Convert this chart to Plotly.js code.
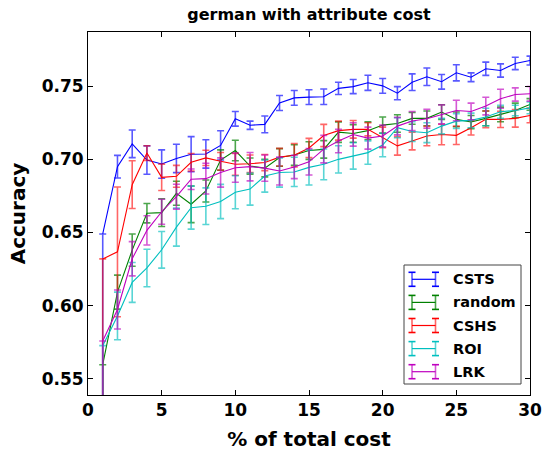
<!DOCTYPE html>
<html>
<head>
<meta charset="utf-8">
<script src="https://cdn.plot.ly/plotly-3.0.1.min.js"></script>
<style>html,body{margin:0;padding:0;background:#fff;}#chart{width:544px;height:452px;}</style>
</head>
<body>
<div id="chart"></div>
<script>
// ---- data ----
const costPct = [1,2,3,4,5,6,7,8,9,10,11,12,13,14,15,16,17,18,19,20,21,22,23,24,25,26,27,28,29,30];
const seriesNames = ["CSTS", "random", "CSHS", "ROI", "LRK"];

const cstsMean = [0.649,0.695,0.7106,0.6995,0.6968,0.7006,0.7035,0.7037,0.7095,0.7277,0.7233,0.7239,0.7385,0.742,0.7425,0.7428,0.7485,0.7497,0.7523,0.7502,0.7452,0.7527,0.7564,0.753,0.7591,0.7561,0.7619,0.7607,0.7655,0.7675];
const cstsErrUp = [0,0.0077,0.0094,0.0097,0.0097,0.0097,0.012,0.0097,0.01,0.005,0.0028,0.0057,0.0051,0.005,0.005,0.0053,0.0042,0.0048,0.0052,0.005,0.0045,0.0057,0.006,0.005,0.0055,0.003,0.0045,0.0045,0.0042,0.003];
const cstsErrDown = [0.15,0.0077,0.0094,0.0097,0.0097,0.0097,0.012,0.0097,0.01,0.005,0.0028,0.0057,0.0051,0.005,0.005,0.0053,0.0042,0.0048,0.0052,0.005,0.0045,0.0057,0.006,0.005,0.0055,0.003,0.0045,0.0045,0.0042,0.003];

const randomMean = [0.5597,0.6093,0.638,0.6632,0.6636,0.6768,0.6693,0.6784,0.6995,0.706,0.6954,0.694,0.7013,0.703,0.706,0.7068,0.7186,0.7177,0.7196,0.7234,0.7245,0.728,0.728,0.7323,0.7273,0.7255,0.728,0.7307,0.7334,0.7375];
const randomErrUp = [0,0.0116,0.011,0.0066,0.0095,0.0082,0.0125,0.0075,0.007,0.007,0.0055,0.006,0.006,0.007,0.006,0.006,0.007,0.006,0.006,0.0055,0.006,0.004,0.005,0.005,0.005,0.0045,0.005,0.005,0.005,0.004];
const randomErrDown = [0.15,0.0116,0.011,0.0066,0.0095,0.0082,0.0125,0.0075,0.007,0.007,0.0055,0.006,0.006,0.007,0.006,0.006,0.007,0.006,0.006,0.0055,0.006,0.004,0.005,0.005,0.005,0.0045,0.005,0.005,0.005,0.004];

const cshsMean = [0.632,0.6368,0.6827,0.7043,0.6877,0.6884,0.698,0.701,0.6987,0.6966,0.697,0.6978,0.7015,0.7028,0.7078,0.7163,0.7196,0.7205,0.7205,0.715,0.7092,0.7125,0.7159,0.717,0.7164,0.7216,0.7273,0.7273,0.728,0.73];
const cshsErrUp = [0,0.0443,0.0163,0.005,0.009,0.0075,0.006,0.0052,0.006,0.0075,0.006,0.0055,0.006,0.008,0.0065,0.0076,0.0065,0.006,0.0045,0.007,0.0063,0.006,0.0066,0.007,0.0063,0.005,0.0057,0.0055,0.006,0.005];
const cshsErrDown = [0.15,0.0443,0.0163,0.005,0.009,0.0075,0.006,0.0052,0.006,0.0075,0.006,0.0055,0.006,0.008,0.0065,0.0076,0.0065,0.006,0.0045,0.007,0.0063,0.006,0.0066,0.007,0.0063,0.005,0.0057,0.0055,0.006,0.005];

const roiMean = [0.5727,0.593,0.6159,0.6258,0.6382,0.6537,0.667,0.668,0.6712,0.6775,0.6797,0.6886,0.691,0.6914,0.6945,0.6966,0.70,0.7023,0.7046,0.7098,0.7216,0.719,0.7182,0.7227,0.7261,0.7266,0.7289,0.7325,0.7334,0.7352];
const roiErrUp = [0,0.0163,0.0136,0.0128,0.0125,0.013,0.0147,0.0125,0.0117,0.0113,0.011,0.011,0.01,0.01,0.012,0.0105,0.0093,0.009,0.008,0.008,0.0068,0.0068,0.0068,0.0053,0.005,0.005,0.006,0.0045,0.0036,0.004];
const roiErrDown = [0.15,0.0163,0.0136,0.0128,0.0125,0.013,0.0147,0.0125,0.0117,0.0113,0.011,0.011,0.01,0.01,0.012,0.0105,0.0093,0.009,0.008,0.008,0.0068,0.0068,0.0068,0.0053,0.005,0.005,0.006,0.0045,0.0036,0.004];

const lrkMean = [0.5759,0.5974,0.6321,0.6515,0.6642,0.6745,0.6864,0.6868,0.691,0.6943,0.695,0.694,0.692,0.6948,0.6983,0.707,0.7125,0.717,0.7145,0.7159,0.7227,0.7262,0.7277,0.7307,0.7334,0.7327,0.7364,0.7414,0.7443,0.7448];
const lrkErrUp = [0,0.0133,0.0117,0.01,0.0085,0.0085,0.007,0.0105,0.01,0.01,0.0097,0.009,0.0095,0.008,0.009,0.0094,0.008,0.008,0.0075,0.0075,0.006,0.0065,0.0065,0.0065,0.007,0.0057,0.006,0.0065,0.0045,0.005];
const lrkErrDown = [0.15,0.0133,0.0117,0.01,0.0085,0.0085,0.007,0.0105,0.01,0.01,0.0097,0.009,0.0095,0.008,0.009,0.0094,0.008,0.008,0.0075,0.0075,0.006,0.0065,0.0065,0.0065,0.007,0.0057,0.006,0.0065,0.0045,0.005];

const xTicks = [0,5,10,15,20,25,30];
const yTicks = [0.55,0.60,0.65,0.70,0.75];

// ---- styling ----
const lineColors = ["#0000ff", "#008000", "#ff0000", "#00bfbf", "#bf00bf"];
const barColors  = ["rgba(0,0,255,0.65)", "rgba(0,128,0,0.7)", "rgba(255,0,0,0.6)", "rgba(0,191,191,0.65)", "rgba(191,0,191,0.65)"];
const means = [cstsMean, randomMean, cshsMean, roiMean, lrkMean];
const ups = [cstsErrUp, randomErrUp, cshsErrUp, roiErrUp, lrkErrUp];
const downs = [cstsErrDown, randomErrDown, cshsErrDown, roiErrDown, lrkErrDown];

const font = "DejaVu Sans, Arial, sans-serif";
const W = 544, H = 452;
const mL = 88, mR = 14, mT = 32, mB = 57;
const pw = W - mL - mR, ph = H - mT - mB;

const traces = seriesNames.map((name, i) => ({
  type: "scatter",
  mode: "lines",
  name: name,
  x: costPct,
  y: means[i],
  line: {color: lineColors[i], width: 1.1},
  error_y: {type: "data", symmetric: false, array: ups[i], arrayminus: downs[i], color: barColors[i], thickness: 1.6, width: 3.5},
  showlegend: false,
  hoverinfo: "skip"
}));

// custom legend (matplotlib style errorbar handles)
function px2x(p){ return (p - mL) / pw; }
function py2y(p){ return (H - mB - p) / ph; }
const shapes = [];
const annotations = [];
shapes.push({type: "rect", xref: "paper", yref: "paper", x0: px2x(404), x1: px2x(521), y0: py2y(384), y1: py2y(265),
  line: {color: "#444", width: 1}, fillcolor: "#fff", layer: "above"});
const legTop = 279.3, legStep = 23.1;
seriesNames.forEach((name, i) => {
  const yc = legTop + i * legStep;
  const xa = 412, xb = 435.5, capH = 7;
  shapes.push({type: "line", xref: "paper", yref: "paper", x0: px2x(xa), x1: px2x(xb), y0: py2y(yc), y1: py2y(yc), line: {color: lineColors[i], width: 1.2}, layer: "above"});
  [xa, xb].forEach(xx => {
    shapes.push({type: "line", xref: "paper", yref: "paper", x0: px2x(xx), x1: px2x(xx), y0: py2y(yc - capH), y1: py2y(yc + capH), line: {color: barColors[i], width: 1.6}, layer: "above"});
    shapes.push({type: "line", xref: "paper", yref: "paper", x0: px2x(xx - 3.5), x1: px2x(xx + 3.5), y0: py2y(yc - capH), y1: py2y(yc - capH), line: {color: lineColors[i], width: 1.6}, layer: "above"});
    shapes.push({type: "line", xref: "paper", yref: "paper", x0: px2x(xx - 3.5), x1: px2x(xx + 3.5), y0: py2y(yc + capH), y1: py2y(yc + capH), line: {color: lineColors[i], width: 1.6}, layer: "above"});
  });
  annotations.push({xref: "paper", yref: "paper", x: px2x(451), y: py2y(yc), xanchor: "left", yanchor: "middle",
    text: "<b>" + name + "</b>", showarrow: false, font: {family: font, size: 14.5, color: "#000"}});
});

const layout = {
  width: W, height: H,
  margin: {l: mL, r: mR, t: mT, b: mB, pad: 0},
  paper_bgcolor: "#fff", plot_bgcolor: "#fff",
  font: {family: font, color: "#000"},
  title: {text: "<b>german with attribute cost</b>", x: (mL + pw / 2) / W, xanchor: "center", y: 1 - 14 / H, yanchor: "middle", yref: "container",
    font: {family: font, size: 16, color: "#000"}},
  xaxis: {
    range: [0, 30], tickvals: xTicks, ticktext: xTicks.map(v => "<b>" + v + "</b>"),
    ticks: "inside", ticklen: 5, tickwidth: 1, tickcolor: "#000",
    showline: true, linecolor: "#000", linewidth: 1, mirror: "ticks",
    showgrid: false, zeroline: false,
    tickfont: {family: font, size: 17, color: "#000"},
    title: {text: "<b>% of total cost</b>", font: {family: font, size: 20, color: "#000"}, standoff: 12}
  },
  yaxis: {
    range: [0.539, 0.787], tickvals: yTicks, ticktext: yTicks.map(v => "<b>" + v.toFixed(2) + "</b>"),
    ticks: "inside", ticklen: 5, tickwidth: 1, tickcolor: "#000",
    showline: true, linecolor: "#000", linewidth: 1, mirror: "ticks",
    showgrid: false, zeroline: false,
    tickfont: {family: font, size: 17, color: "#000"},
    title: {text: "<b>Accuracy</b>", font: {family: font, size: 20, color: "#000"}, standoff: 10}
  },
  shapes: shapes,
  annotations: annotations
};

Plotly.newPlot("chart", traces, layout, {staticPlot: true, displayModeBar: false});
</script>
</body>
</html>
